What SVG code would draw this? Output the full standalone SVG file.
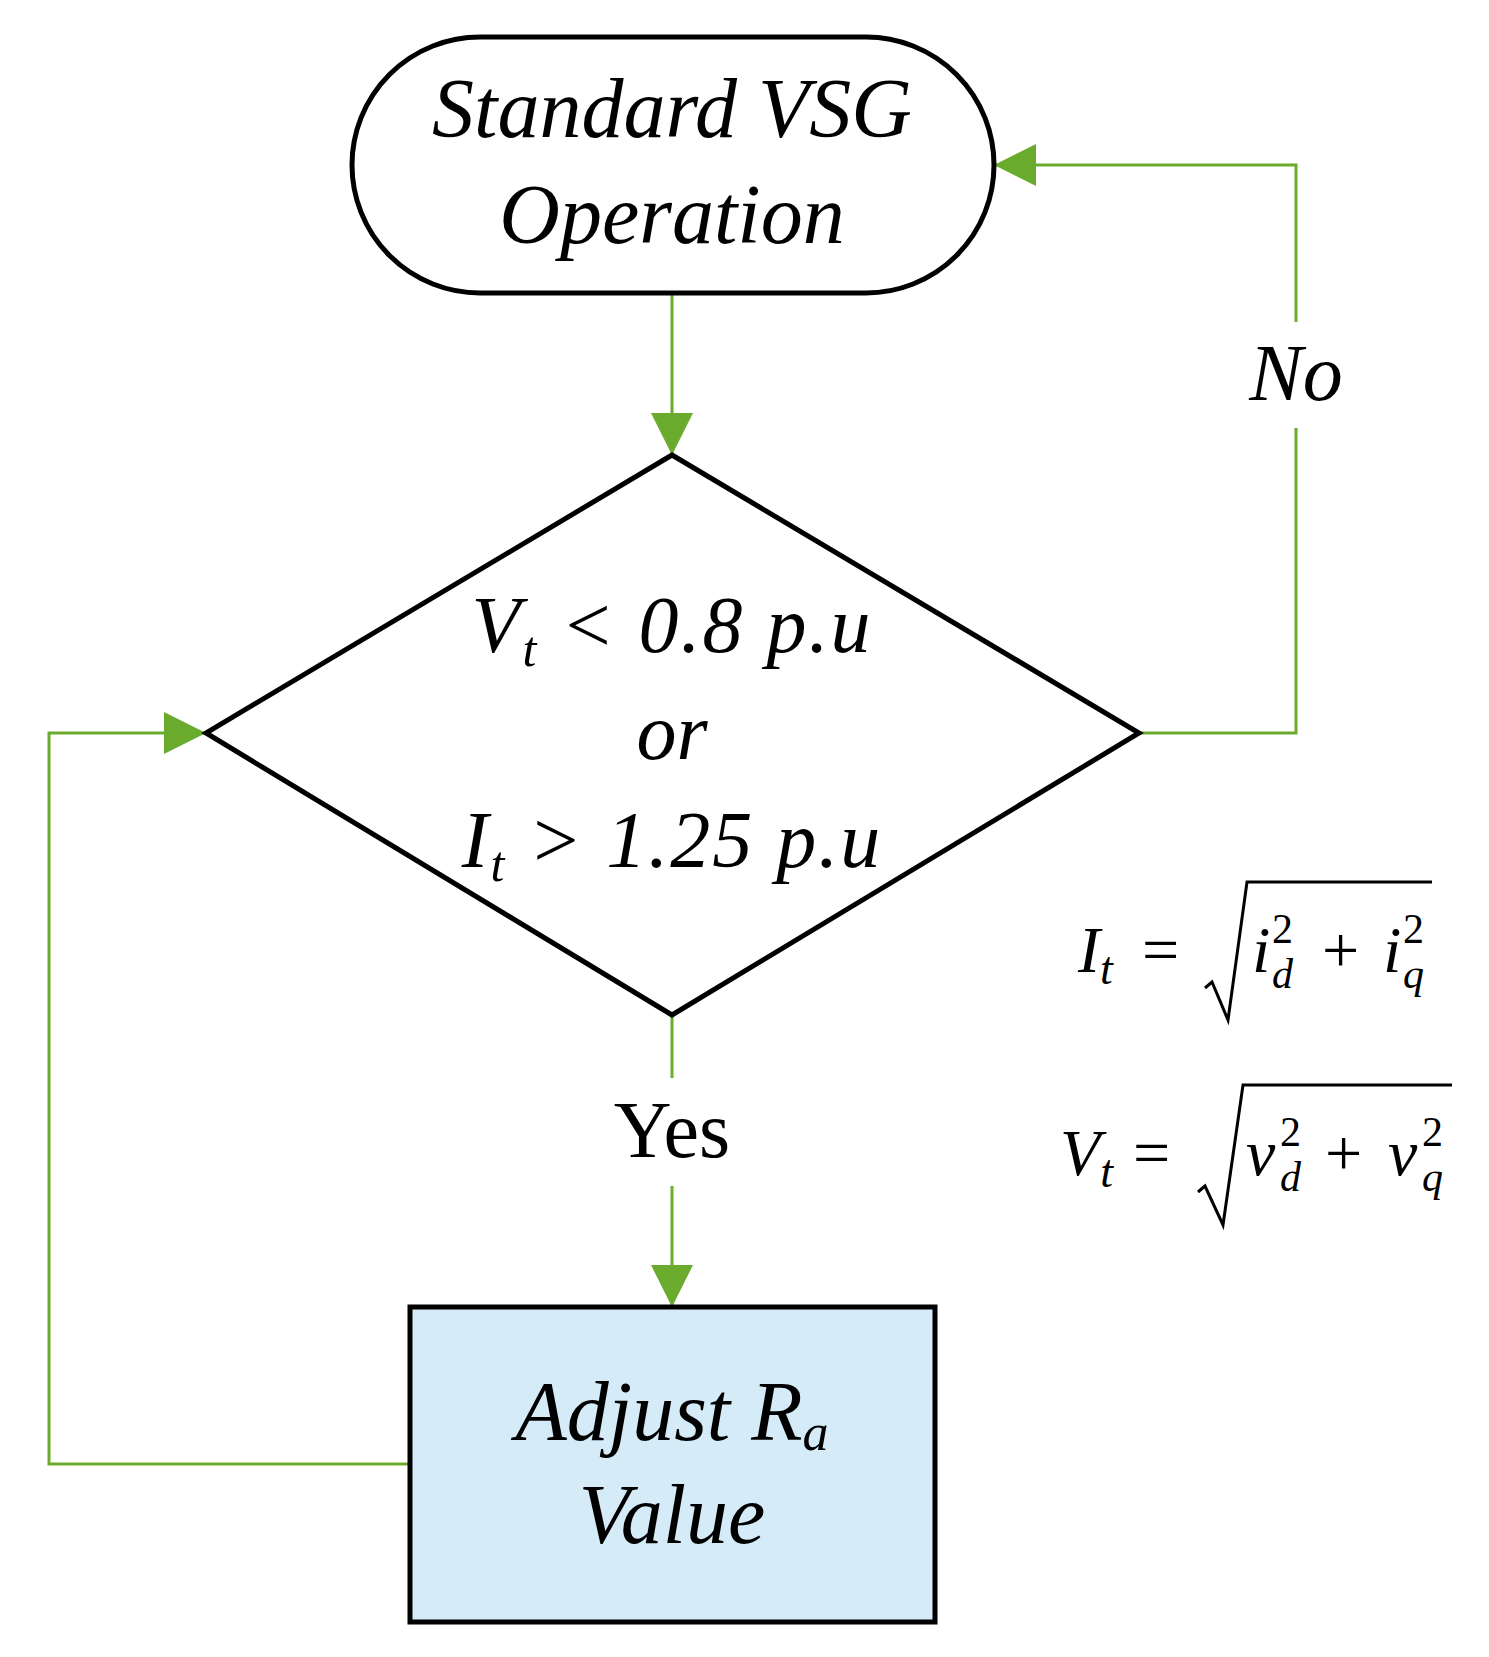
<svg xmlns="http://www.w3.org/2000/svg" width="1489" height="1657" viewBox="0 0 1489 1657">
<style>
.n{stroke:#000;stroke-width:5;}
.c{stroke:#6aab2e;stroke-width:3;fill:none;}
.t{font-family:"Liberation Serif",serif;font-style:italic;fill:#000;}
.m{font-family:"Liberation Serif",serif;fill:#000;}
</style>
<defs>
<marker id="b" viewBox="0 0 10 10" refX="10" refY="5" markerWidth="42" markerHeight="42" markerUnits="userSpaceOnUse" orient="auto"><path d="M0,0 L10,5 L0,10 Z" fill="#6aab2e"/></marker>
</defs>
<rect width="1489" height="1657" fill="#fff"/>
<g id="connectors">
<path class="c" d="M672,293 V455" marker-end="url(#b)"/>
<path class="c" d="M672,1015 V1078"/>
<path class="c" d="M672,1186 V1307" marker-end="url(#b)"/>
<path class="c" d="M1139,733 H1296 V428"/>
<path class="c" d="M1296,322 V165 H994" marker-end="url(#b)"/>
<path class="c" d="M410,1464 H49 V733 H206" marker-end="url(#b)"/>
<text class="t" x="1296" y="400" font-size="80" text-anchor="middle">No</text>
<text class="m" x="672" y="1157" font-size="80" text-anchor="middle">Yes</text>
</g>
<g id="start">
<rect class="n" x="352" y="37" width="642" height="256" rx="128" fill="#fff"/>
<text class="t" x="672" y="137" font-size="84" text-anchor="middle">Standard VSG</text>
<text class="t" x="672" y="243" font-size="84" text-anchor="middle">Operation</text>
</g>
<g id="decision">
<polygon class="n" points="672,455 1139,733 672,1015 206,733" fill="#fff"/>
<text class="t" x="672" y="652" font-size="80" text-anchor="middle" letter-spacing="2">V<tspan font-size="50" dy="14">t</tspan><tspan dy="-14"> &lt; 0.8 p.u</tspan></text>
<text class="t" x="672" y="759" font-size="80" text-anchor="middle">or</text>
<text class="t" x="672" y="867" font-size="80" text-anchor="middle" letter-spacing="2">I<tspan font-size="50" dy="14">t</tspan><tspan dy="-14"> &gt; 1.25 p.u</tspan></text>
</g>
<g id="adjust">
<rect class="n" x="410" y="1307" width="525" height="315" fill="#d5ebf7"/>
<text class="t" x="672" y="1440" font-size="84" text-anchor="middle">Adjust R<tspan font-size="52" dy="10">a</tspan></text>
<text class="t" x="672" y="1543" font-size="84" text-anchor="middle">Value</text>
</g>
<g id="formulas">
<text class="t" x="1078" y="972" font-size="66">I<tspan font-size="46" dy="12">t</tspan></text>
<text class="m" x="1142" y="972" font-size="66">=</text>
<polyline points="1205,988 1212,982 1228,1020 1247,882 1432,882" fill="none" stroke="#000" stroke-width="3"/>
<text class="t" x="1252" y="972" font-size="66">i</text>
<text class="m" x="1272" y="943" font-size="42">2</text>
<text class="t" x="1272" y="988" font-size="42">d</text>
<text class="m" x="1322" y="972" font-size="66">+</text>
<text class="t" x="1383" y="972" font-size="66">i</text>
<text class="m" x="1403" y="943" font-size="42">2</text>
<text class="t" x="1403" y="988" font-size="42">q</text>
<text class="t" x="1060" y="1175" font-size="66">V<tspan font-size="46" dy="12">t</tspan></text>
<text class="m" x="1133" y="1175" font-size="66">=</text>
<polyline points="1198,1192 1205,1186 1223,1225 1243,1085 1452,1085" fill="none" stroke="#000" stroke-width="3"/>
<text class="t" x="1246" y="1175" font-size="66">v</text>
<text class="m" x="1280" y="1146" font-size="42">2</text>
<text class="t" x="1280" y="1191" font-size="42">d</text>
<text class="m" x="1325" y="1175" font-size="66">+</text>
<text class="t" x="1388" y="1175" font-size="66">v</text>
<text class="m" x="1422" y="1146" font-size="42">2</text>
<text class="t" x="1422" y="1191" font-size="42">q</text>
</g>
</svg>
